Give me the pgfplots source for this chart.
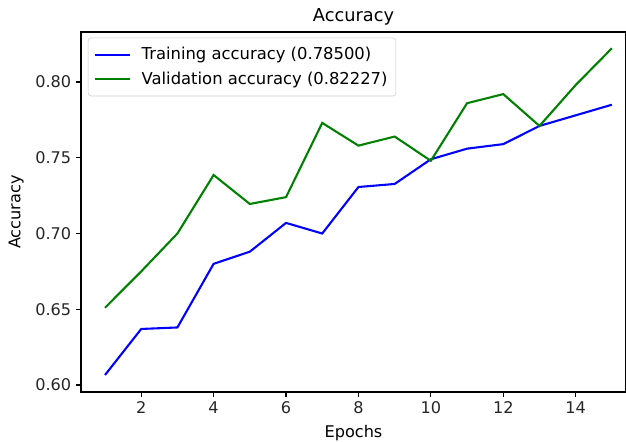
\documentclass[border=0pt]{standalone}
\usepackage{pgfplots}
\pgfplotsset{compat=1.18}
\usepackage{fontspec}
\setmainfont{DejaVu Sans}
\definecolor{mplgreen}{rgb}{0,0.5,0}
\begin{document}
\begin{tikzpicture}
\begin{axis}[
  scale only axis, width=392.4bp, height=259.2bp,
  xmin=0.337, xmax=15.39, ymin=0.5954, ymax=0.833,
  xtick={2,4,6,8,10,12,14},
  ytick={0.60,0.65,0.70,0.75,0.80},
  yticklabel style={/pgf/number format/.cd, fixed, fixed zerofill, precision=2},
  /pgf/number format/assume math mode=true,
  tick align=outside, tick pos=left, major tick length=3.5bp,
  every tick/.style={black, line width=0.8bp},
  axis line style={line width=0.8bp},
  ticklabel style={font=\fontsize{11.6bp}{13bp}\selectfont, text=black!85},
  title=Accuracy, title style={font=\fontsize{12.8bp}{15bp}\selectfont, yshift=-4.5bp},
  xlabel=Epochs, ylabel=Accuracy,
  label style={font=\fontsize{11.6bp}{13bp}\selectfont},
  xlabel style={yshift=-1.5bp},
  ylabel style={yshift=1.5bp},
  legend style={at={(rel axis cs:0,1)}, anchor=north west, xshift=5bp, yshift=-4bp,
    draw=black!20, rounded corners=2pt, fill=white, fill opacity=0.8, text opacity=1,
    font=\fontsize{11.8bp}{13bp}\selectfont, inner xsep=4bp, inner ysep=5bp, row sep=3bp},
  legend cell align=left,
  legend image code/.code={\draw[#1] (0bp,0bp) -- (25bp,0bp); \path (31bp,0bp);},
]
\addplot[blue, line width=1.5bp] coordinates {
(1,0.6066) (2,0.637) (3,0.638) (4,0.680) (5,0.688) (6,0.707) (7,0.700)
(8,0.7307) (9,0.7327) (10,0.749) (11,0.756) (12,0.759) (13,0.771) (14,0.778) (15,0.785)};
\addlegendentry{Training accuracy (0.78500)}
\addplot[mplgreen, line width=1.5bp] coordinates {
(1,0.651) (2,0.675) (3,0.700) (4,0.7386) (5,0.7195) (6,0.724) (7,0.773)
(8,0.758) (9,0.764) (10,0.748) (11,0.786) (12,0.792) (13,0.771) (14,0.798) (15,0.82227)};
\addlegendentry{Validation accuracy (0.82227)}
\coordinate (bl) at (rel axis cs:0,0);
\coordinate (tr) at (rel axis cs:1,1);
\end{axis}
\path (bl) ++(-58.32bp,-36bp) coordinate (A);
\path (tr) ++(0bp,23.04bp) coordinate (B);
\pgfresetboundingbox
\useasboundingbox (A) rectangle (B);
\end{tikzpicture}
\end{document}
